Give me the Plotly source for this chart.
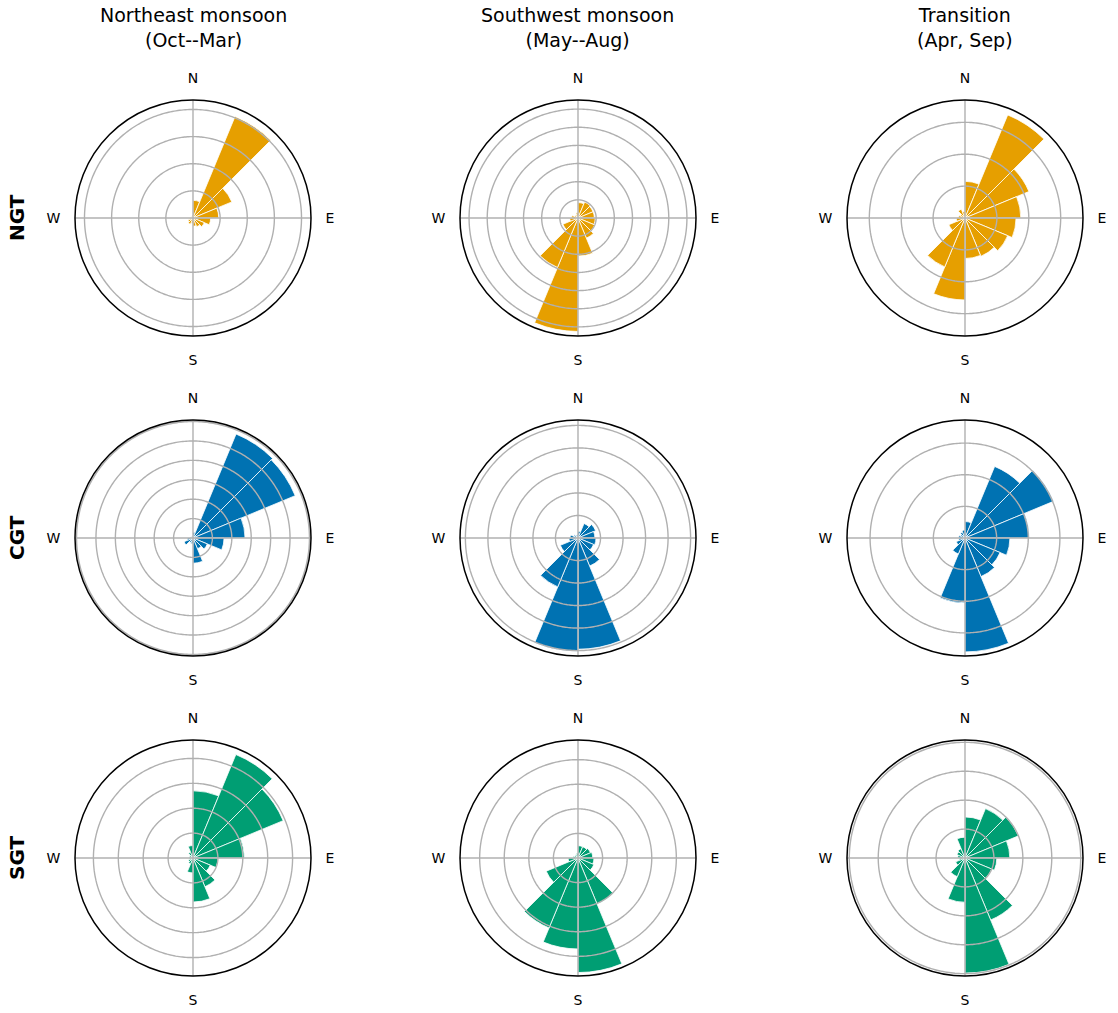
import plotly.graph_objects as go

# wind direction frequency (%) in 16 sectors, starting at N and going clockwise
sectors = ["N-NNE", "NNE-NE", "NE-ENE", "ENE-E", "E-ESE", "ESE-SE", "SE-SSE", "SSE-S",
           "S-SSW", "SSW-SW", "SW-WSW", "WSW-W", "W-WNW", "WNW-NW", "NW-NNW", "NNW-N"]
sector_width = 22.5
theta_mid = [sector_width * k + sector_width / 2 for k in range(16)]

seasons = ["Northeast monsoon<br>(Oct--Mar)", "Southwest monsoon<br>(May--Aug)", "Transition<br>(Apr, Sep)"]
regions = ["NGT", "CGT", "SGT"]
region_colors = ["#E69F00", "#0072B2", "#009E73"]

ngt_ne = [6.5, 40.5, 15.5, 9.5, 6.5, 4.5, 3.5, 3.0, 2.0, 2.5, 2.0, 1.2, 1.0, 0.8, 0.8, 1.0]
ngt_sw = [4.25, 4.75, 4.5, 4.5, 4.75, 5.0, 6.0, 10.5, 31.25, 14.75, 4.5, 2.25, 1.75, 1.0, 1.0, 1.5]
ngt_tr = [5.75, 17.5, 10.85, 8.75, 8.0, 7.25, 6.5, 6.35, 12.85, 8.3, 2.75, 1.35, 1.0, 0.75, 1.5, 1.0]

cgt_ne = [1.5, 29.0, 28.5, 13.4, 8.0, 4.0, 3.0, 6.5, 1.5, 1.25, 2.5, 1.5, 0.75, 0.5, 0.5, 0.5]
cgt_sw = [1.5, 3.5, 4.25, 3.75, 4.0, 3.75, 6.75, 24.7, 25.15, 11.75, 4.25, 2.0, 1.75, 1.0, 0.75, 0.75]
cgt_tr = [2.6, 12.25, 15.15, 10.15, 7.1, 6.0, 6.6, 18.0, 10.25, 2.75, 1.5, 1.0, 1.0, 0.75, 1.0, 1.25]

sgt_ne = [13.5, 22.5, 19.6, 10.3, 5.0, 3.75, 6.25, 8.85, 3.0, 1.25, 1.0, 0.75, 0.75, 0.75, 1.25, 2.5]
sgt_sw = [2.5, 2.5, 2.75, 3.0, 3.25, 3.5, 10.15, 23.3, 18.5, 15.4, 7.0, 2.0, 1.0, 0.75, 0.75, 1.0]
sgt_tr = [7.1, 9.25, 10.0, 7.75, 5.5, 5.0, 11.6, 19.9, 7.65, 3.5, 1.75, 1.0, 1.25, 1.5, 1.75, 3.6]

freqs = [[ngt_ne, ngt_sw, ngt_tr],
         [cgt_ne, cgt_sw, cgt_tr],
         [sgt_ne, sgt_sw, sgt_tr]]

# radial grid step and outer limit of each panel
grid_step = [[10, 5, 5], [5, 5, 5], [5, 5, 5]]
r_max = [[43.5, 32.5, 18.5], [30.4, 26.2, 18.65], [23.7, 24.0, 20.4]]

compass_angles = [0, 90, 180, 270]
compass_labels = ["N", "E", "S", "W"]

W, H = 1118, 1013
col_cx = [193, 578, 965]
row_cy = [218, 538, 858]
rad = 118
grid_col = "#b0b0b0"

fig = go.Figure()
layout = dict(width=W, height=H, margin=dict(l=0, r=0, t=0, b=0),
              paper_bgcolor="white", plot_bgcolor="white", showlegend=False,
              font=dict(family="DejaVu Sans", color="black"))
annotations = []

for i in range(3):
    for j in range(3):
        n = i * 3 + j + 1
        pname = "polar" if n == 1 else "polar%d" % n
        rm = r_max[i][j]
        step = grid_step[i][j]
        ticks = [step * k for k in range(1, int(rm // step) + 1)]

        fig.add_trace(go.Barpolar(
            r=freqs[i][j], theta=theta_mid, width=[sector_width] * 16,
            marker=dict(color=region_colors[i], line=dict(color="white", width=0.8)),
            customdata=sectors, hovertemplate="%{customdata}: %{r:.1f}%<extra></extra>",
            subplot=pname))

        # grid drawn on top of the bars, like the original
        ring_r, ring_t = [], []
        for t in ticks:
            ring_r += [t] * 361 + [None]
            ring_t += list(range(361)) + [None]
        fig.add_trace(go.Scatterpolar(r=ring_r, theta=ring_t, mode="lines",
                                      line=dict(color=grid_col, width=1.4),
                                      hoverinfo="skip", subplot=pname))
        fig.add_trace(go.Scatterpolar(r=[rm, 0, rm, None, rm, 0, rm],
                                      theta=[0, 0, 180, None, 90, 90, 270], mode="lines",
                                      line=dict(color=grid_col, width=1.4),
                                      hoverinfo="skip", subplot=pname))

        cx, cy = col_cx[j], row_cy[i]
        layout[pname] = dict(
            domain=dict(x=[(cx - rad) / W, (cx + rad) / W],
                        y=[1 - (cy + rad) / H, 1 - (cy - rad) / H]),
            bgcolor="white",
            radialaxis=dict(range=[0, rm], tickvals=ticks, showticklabels=False,
                            ticks="", showline=False, showgrid=False),
            angularaxis=dict(direction="clockwise", rotation=90,
                             tickvals=compass_angles, ticktext=compass_labels,
                             ticks="outside", ticklen=11, tickcolor="rgba(0,0,0,0)",
                             tickfont=dict(size=14, family="DejaVu Sans", color="black"),
                             showline=True, linecolor="black", linewidth=1.5,
                             showgrid=False, layer="above traces"))

for j in range(3):
    annotations.append(dict(text=seasons[j], x=col_cx[j] / W, y=1 - 28 / H,
                            xref="paper", yref="paper", showarrow=False,
                            xanchor="center", yanchor="middle",
                            font=dict(size=19, family="DejaVu Sans", color="black")))
for i in range(3):
    annotations.append(dict(text="<b>%s</b>" % regions[i], x=17 / W, y=1 - row_cy[i] / H,
                            xref="paper", yref="paper", showarrow=False, textangle=-90,
                            xanchor="center", yanchor="middle",
                            font=dict(size=20, family="DejaVu Sans", color="black")))

layout["annotations"] = annotations
fig.update_layout(**layout)
# drop the browser's default 8px body margin so the figure fills the window
fig.write_html("out.html", config={"displayModeBar": False},
               post_script="document.body.style.margin='0';")
